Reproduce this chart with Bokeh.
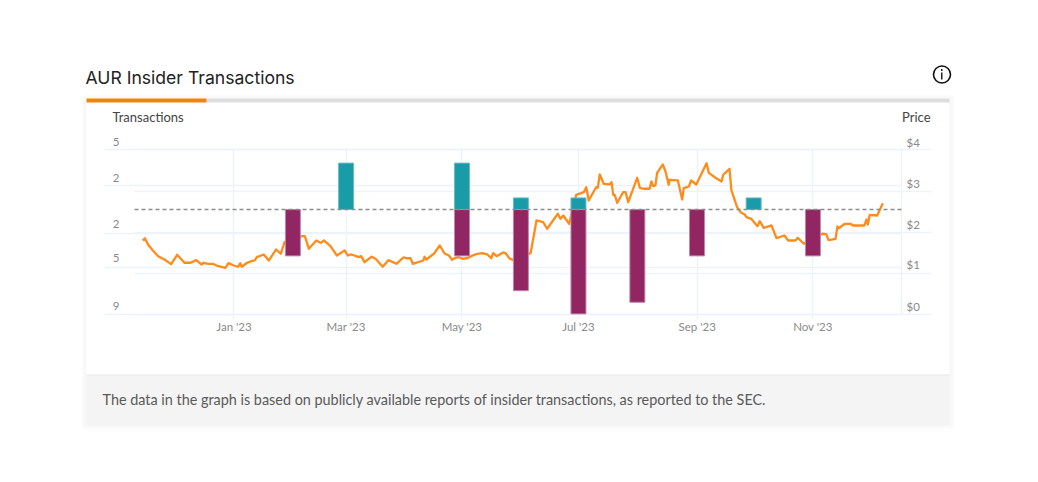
from bokeh.embed import file_html
from bokeh.resources import INLINE
from bokeh.plotting import figure
from bokeh.models import BoxAnnotation, FixedTicker, Label, LinearAxis, Range1d

# ---- data -------------------------------------------------------------
BASE_MS = 1672531200000  # 1 Jan 2023
DAY_MS = 86400000

title = "AUR Insider Transactions"
footer = "The data in the graph is based on publicly available reports of insider transactions, as reported to the SEC."

tick_days = [0, 59, 120, 181.3, 243.8, 304.7]
tick_labels = ["Jan '23", "Mar '23", "May '23", "Jul '23", "Sep '23", "Nov '23"]

left_ticks = [5.14, 2.05, -2.05, -5.0, -9.05]
left_label_at = [5.78, 2.73, -1.29, -4.2, -8.3]
left_labels = ["5", "2", "2", "5", "9"]
right_ticks = [0, 1, 2, 3, 4]
right_label_at = [0.208, 1.218, 2.189, 3.18, 4.177]
right_labels = ["$0", "$1", "$2", "$3", "$4"]

buy_days = [59, 120, 151, 181.3, 273.5]
buy_counts = [4, 4, 1, 1, 1]
sell_days = [31, 120, 151, 181.3, 212.3, 243.7, 304.7]
sell_counts = [-4, -4, -7, -9, -8, -4, -4]

price_days = [-48.0, -46.9, -45.2, -42.7, -39.9, -36.4, -33.1, -29.9, -26.1, -22.9, -19.9, -17.1, -15.9, -13.6,
              -11.2, -8.8, -4.5, -2.9, -0.1, 2.2, 3.3, 4.1, 6.9, 9.2, 10.9, 12.0, 15.7, 18.3, 22.2, 24.6, 26.6,
              35.9, 37.3, 39.4, 43.3, 45.0, 45.7, 47.3, 50.8, 54.1, 58.2, 59.9, 61.8, 65.7, 66.9, 68.7, 72.4,
              74.5, 78.3, 81.2, 85.5, 89.1, 91.2, 92.9, 94.1, 99.6, 100.3, 101.2, 105.2, 108.3, 110.8, 113.1,
              114.8, 116.6, 118.3, 120.4, 122.7, 124.8, 128.0, 130.6, 133.3, 135.4, 136.4, 138.2, 141.7, 142.9,
              145.2, 146.7, 156.1, 159.2, 162.7, 164.8, 170.4, 171.8, 173.3, 176.4, 180.1, 182.7, 184.1, 185.4,
              186.7, 190.6, 191.5, 192.5, 194.6, 197.6, 198.7, 199.6, 200.4, 201.7, 204.8, 206.1, 207.5, 212.2,
              213.6, 215.4, 218.7, 219.7, 220.6, 221.8, 222.7, 225.7, 227.1, 228.8, 229.2, 233.6, 235.9, 236.7,
              239.4, 240.6, 243.3, 248.7, 249.9, 253.4, 256.6, 257.5, 260.8, 261.8, 264.8, 266.6, 268.8, 269.7,
              272.2, 275.5, 276.7, 278.8, 282.9, 285.5, 289.7, 291.7, 295.5, 296.7, 299.9, 309.6, 311.7, 312.9,
              316.6, 317.6, 318.3, 321.5, 324.5, 325.7, 331.8, 332.9, 333.6, 334.6, 338.5, 341.5]
prices = [1.80, 1.857, 1.697, 1.559, 1.421, 1.333, 1.227, 1.455, 1.261, 1.261, 1.324, 1.219, 1.261, 1.236,
          1.236, 1.188, 1.139, 1.251, 1.195, 1.164, 1.251, 1.164, 1.261, 1.299, 1.316, 1.396, 1.462, 1.316, 1.583, 1.479, 1.76,
          1.905, 1.905, 1.60, 1.801, 1.76, 1.745, 1.801, 1.663, 1.438, 1.559, 1.438, 1.462, 1.396, 1.421, 1.275, 1.406,
          1.358, 1.164, 1.324, 1.236, 1.389, 1.365, 1.372, 1.236, 1.316, 1.406, 1.341, 1.479, 1.68, 1.486, 1.438,
          1.333, 1.382, 1.396, 1.358, 1.372, 1.421, 1.479, 1.493, 1.462, 1.372, 1.493, 1.421, 1.51, 1.493,
          1.358, 1.333, 1.493, 2.286, 2.245, 2.085, 2.448, 2.327, 2.407, 2.206, 2.909, 2.948, 2.972, 3.093,
          2.771, 3.093, 3.079, 3.401, 3.176, 3.159, 3.215, 2.909, 2.909, 2.715, 2.972, 2.972, 2.73, 3.321,
          3.079, 3.055, 3.055, 3.232, 3.118, 3.135, 3.442, 3.644, 3.474, 3.152, 3.273, 3.256, 2.795, 3.069,
          3.11, 3.256, 3.159, 3.675, 3.442, 3.321, 3.232, 3.394, 3.539, 3.013, 2.608, 2.487, 2.432, 2.366,
          2.327, 2.148, 2.269, 2.109, 2.165, 1.857, 1.922, 1.801, 1.801, 1.867, 1.721, 1.964, 1.954, 1.808,
          1.842, 2.141, 2.099, 2.206, 2.206, 2.165, 2.165, 2.31, 2.189, 2.424, 2.407, 2.705]

# ---- styling ----------------------------------------------------------
GRID = "#EDF3FA"
GREY = "#8A8A8A"
FONT = "Lato"
W, H = 1030, 474
LEFT_DAY, RIGHT_DAY = -52.37, 351.3   # the plot area's ends on the date scale
TICK_FONT = "11.5px"


def ms(days):
    return [BASE_MS + d * DAY_MS for d in days]


# the frame is the whole page, so that the card, title and footer can be drawn
p = figure(width=W, height=H, output_backend="svg", toolbar_location=None, tools="",
           x_axis_type="datetime", background_fill_color="white", border_fill_color="white",
           min_border=0, x_range=Range1d(BASE_MS - 122.89 * DAY_MS, BASE_MS + 419.21 * DAY_MS),
           y_range=Range1d(-22.845, 18.017))
p.outline_line_color = None
p.grid.visible = False
p.extra_y_ranges = {"price": Range1d(-3.872, 7.619)}


def box(x0, x1, y0, y1, color, alpha=1.0, level="image", **kw):
    b = BoxAnnotation(left=x0, right=x1, top=H - y0, bottom=H - y1,
                      left_units="screen", right_units="screen", top_units="screen", bottom_units="screen",
                      fill_color=color, fill_alpha=alpha, line_color=None, level=level, **kw)
    p.add_layout(b)
    return b


def text(x, y, s, size, color, align="left", style="normal", font=FONT):
    p.add_layout(Label(x=x, y=H - y, x_units="screen", y_units="screen", text=s, text_font=font,
                       text_font_size=size, text_font_style=style, text_color=color,
                       text_align=align, text_baseline="middle"))


def style_axis(ax, tick_in=0, tick_out=0, standoff=0):
    ax.level = "underlay"
    ax.major_tick_in = tick_in
    ax.major_tick_out = tick_out
    ax.minor_tick_in = 0
    ax.minor_tick_out = 0
    ax.major_tick_line_color = GRID if (tick_in or tick_out) else None
    ax.major_tick_line_width = 1.5
    ax.axis_line_color = None
    ax.major_label_standoff = standoff
    ax.major_label_text_font = FONT
    ax.major_label_text_font_size = TICK_FONT
    ax.major_label_text_color = GREY


# card with soft shadow
for grow in (4, 3, 2, 1):
    box(85 - grow, 950 + grow, 98 - grow, 425 + grow, "#000000", 0.009)
box(86, 949, 98, 425, "#FFFFFF")
box(86, 949, 374, 425, "#F4F4F4")
box(86, 949, 374, 375, "#ECECEC")
box(206, 949, 98, 102, "#DEDEDE")
box(86, 206, 98, 102, "#F18400")

# info icon
icon = box(933, 950, 65.5, 82.5, "#FFFFFF", level="annotation", border_radius=9)
icon.line_color = "#111111"
icon.line_alpha = 1.0
icon.line_width = 1.6
box(940.5, 942, 72, 79, "#222222", level="annotation")
box(940.5, 942, 68.5, 70.5, "#222222", level="annotation")

# date axis: its long ticks are the vertical grid lines
xa = p.xaxis[0]
xa.ticker = FixedTicker(ticks=ms(tick_days))
xa.major_label_overrides = dict(zip(ms(tick_days), tick_labels))
style_axis(xa, tick_in=165, tick_out=4, standoff=2)
xa.fixed_location = -9.05

# left axis: one for the long ticks (grid lines), one for the labels above them
ya = p.yaxis[0]
ya.ticker = FixedTicker(ticks=left_ticks)
ya.major_label_overrides = {t: "" for t in left_ticks}
style_axis(ya, tick_in=767, tick_out=30)
ya.fixed_location = BASE_MS + LEFT_DAY * DAY_MS

yl = LinearAxis(ticker=FixedTicker(ticks=left_label_at))
yl.major_label_overrides = dict(zip(left_label_at, left_labels))
style_axis(yl, standoff=15)
yl.fixed_location = BASE_MS + LEFT_DAY * DAY_MS
p.add_layout(yl, "left")

# right axis: the same pair, on the price scale
ra = LinearAxis(y_range_name="price", ticker=FixedTicker(ticks=right_ticks))
ra.major_label_overrides = {t: "" for t in right_ticks}
style_axis(ra, tick_in=767, tick_out=30)
ra.axis_line_color = GRID
ra.axis_line_width = 1.5
ra.bounds = (0, 4)
ra.fixed_location = BASE_MS + RIGHT_DAY * DAY_MS
p.add_layout(ra, "right")

rl = LinearAxis(y_range_name="price", ticker=FixedTicker(ticks=right_label_at))
rl.major_label_overrides = dict(zip(right_label_at, right_labels))
style_axis(rl, standoff=5)
rl.fixed_location = BASE_MS + RIGHT_DAY * DAY_MS
p.add_layout(rl, "right")

# marks
p.line(ms(price_days), prices, y_range_name="price", line_color="#FF8C1A", line_width=2.3, line_join="round")

bar_w = 15 / 1.9 * DAY_MS
p.vbar(x=ms(buy_days), top=buy_counts, bottom=0, width=bar_w, fill_color="#1A9BA8", line_color="#6BBCC5", line_width=1)
p.vbar(x=ms(sell_days), top=0, bottom=sell_counts, width=bar_w, fill_color="#912662", line_color="#BC8AA8", line_width=1)

# dashed zero line across the plot area
p.segment(x0=ms([LEFT_DAY]), x1=ms([RIGHT_DAY]), y0=[0], y1=[0], line_color="#8C8C8C", line_width=1.5, line_dash="4 3")

# texts
text(85, 77, title, "17.6px", "#222222", style="normal", font="Inter")
text(112, 116, "Transactions", "13px", "#444444")
text(930, 116, "Price", "13px", "#444444", "right")
text(102, 399, footer, "14.4px", "#5A5A5A")

open("out.html", "w").write(file_html(p, INLINE))
